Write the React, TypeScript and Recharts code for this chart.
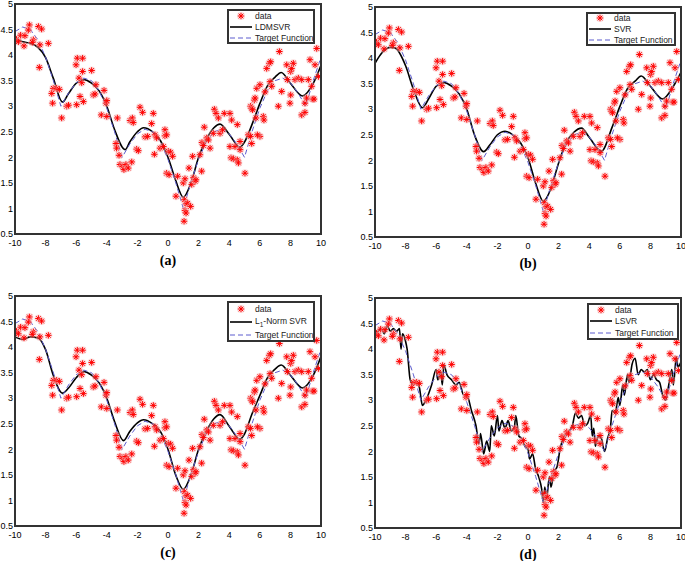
import React from "react";
import {
  ComposedChart,
  Scatter,
  Line,
  XAxis,
  YAxis,
} from "recharts";

const X_TICKS = [-10, -8, -6, -4, -2, 0, 2, 4, 6, 8, 10];
const Y_TICKS = [0.5, 1, 1.5, 2, 2.5, 3, 3.5, 4, 4.5, 5];

// noisy samples (same in all four panels)
const SAMPLE_X = [
  -9.9, -9.78, -9.63, -9.35, -9.41, -9.06, -9.13, -8.8, -8.87, -8.47, -8.26, -8.37, -7.82, -8.41,
  -7.5, -7.28, -7.1, -7.6, -7.54, -6.95, -6.62, -6.5, -6.01, -5.93, -5.97, -5.82, -5.58, -5.58,
  -5.64, -5.75, -5.53, -4.99, -4.88, -4.77, -4.71, -4.18, -4.05, -4.0, -4.36, -4.0, -3.31, -3.4,
  -3.36, -3.2, -3.14, -2.96, -2.88, -2.75, -2.6, -2.37, -2.48, -2.33, -2.27, -2.05, -1.94, -1.83,
  -1.66, -1.5, -1.33, -1.07, -0.96, -0.89, -0.85, -0.74, -0.52, -0.3, -0.2, -0.2, -0.09, 0.02,
  0.17, 0.3, -0.09, 0.07, 0.63, 0.52, 1.0, 1.11, 1.07, 1.18, 1.11, 1.18, 1.05, 1.37, 1.29, 1.48,
  1.55, 1.66, 1.77, 1.83, 1.61, 2.2, 2.09, 2.22, 2.31, 2.37, 2.53, 2.64, 2.75, 3.03, 3.14, 2.96,
  3.29, 3.4, 3.57, 3.68, 4.05, 4.16, 4.05, 4.12, 4.27, 4.38, 4.53, 4.53, 4.6, 4.71, 4.71, 5.03,
  5.4, 5.47, 5.53, 5.64, 5.69, 5.47, 5.25, 5.4, 5.75, 5.8, 6.01, 6.23, 6.27, 6.01, 5.84, 6.34,
  6.45, 6.62, 6.71, 6.67, 6.78, 7.28, 7.43, 7.21, 7.76, 7.8, 8.02, 8.08, 8.19, 8.02, 7.97, 8.3,
  8.52, 8.74, 8.74, 8.95, 8.95, 9.06, 9.17, 9.28, 9.39, 9.46, 9.54, 9.61, 9.72, 9.83,
];
const SAMPLE_Y = [
  4.31, 4.26, 4.39, 4.38, 4.18, 4.59, 4.49, 4.3, 4.25, 4.56, 4.51, 4.2, 4.23, 3.76,
  3.35, 3.35, 3.33, 3.25, 3.06, 2.77, 3.0, 3.02, 3.81, 3.94, 3.03, 3.55, 3.94, 3.68,
  3.46, 3.19, 3.09, 3.7, 3.22, 3.24, 3.42, 3.31, 3.06, 3.11, 2.83, 2.8, 2.77, 2.27,
  2.18, 2.04, 1.86, 1.82, 1.76, 1.86, 1.79, 1.91, 2.72, 2.77, 2.68, 2.16, 2.13, 2.98,
  2.88, 2.4, 2.41, 2.66, 2.86, 2.06, 2.44, 2.38, 2.18, 2.21, 2.42, 2.54, 2.44, 2.12,
  2.1, 2.02, 1.69, 1.66, 1.63, 1.24, 1.5, 1.58, 1.17, 1.09, 0.96, 0.91, 0.75, 1.79, 1.1, 1.04,
  1.47, 1.6, 1.53, 1.56, 2.02, 1.73, 2.05, 2.29, 2.23, 2.59, 2.38, 2.34, 2.18, 2.94, 2.86, 2.47,
  2.77, 2.47, 2.54, 2.86, 2.86, 2.73, 2.21, 1.99, 1.97, 2.21, 2.64, 1.95, 1.89, 2.31, 2.15, 1.69,
  3.0, 2.96, 2.93, 3.12, 3.16, 2.27, 2.44, 2.41, 2.77, 3.35, 3.42, 2.8, 2.73, 2.41, 2.44, 3.28,
  3.74, 3.84, 3.87, 3.48, 3.39, 4.07, 3.29, 3.0, 3.81, 3.52, 3.68, 3.74, 3.84, 3.22, 3.06, 3.52,
  3.55, 3.52, 2.83, 2.88, 3.06, 3.16, 3.52, 3.91, 3.39, 3.14, 3.14, 3.81, 4.13, 3.58,
];

const TARGET_X = [
  -10, -9.5, -9, -8.5, -8, -7.5, -7, -6.5, -6, -5.5, -5, -4.5, -4, -3.5, -3, -2.5, -2, -1.5, -1, -0.5,
  0, 0.5, 1, 1.5, 2, 2.5, 3, 3.5, 4, 4.5, 5, 5.5, 6, 6.5, 7, 7.5, 8, 8.5, 9, 9.5, 10,
];
const TARGET_Y = [
  4.46, 4.55, 4.5, 4.3, 3.96, 3.51, 3.0, 3.26, 3.46, 3.55, 3.5, 3.3, 2.96, 2.51, 2.0, 2.26, 2.46, 2.55, 2.5, 2.3,
  1.96, 1.51, 1.0, 1.51, 1.96, 2.3, 2.5, 2.55, 2.46, 2.26, 2.0, 2.51, 2.96, 3.3, 3.5, 3.55, 3.46, 3.26, 3.0, 3.51, 3.96,
];

const LDMSVR_X = [-10, -9.5, -9, -8.5, -8, -7.5, -6.9, -6.5, -6, -5.5, -5, -4.5, -4, -3.5, -2.8, -2.5, -2, -1.6, -1, -0.5, 0, 0.5, 1, 1.5, 2, 2.5, 3, 3.4, 4, 4.7, 5, 5.5, 6, 6.5, 7, 7.4, 8, 8.8, 9.5, 10];
const LDMSVR_Y = [4.33, 4.26, 4.23, 4.15, 3.95, 3.55, 3.08, 3.25, 3.45, 3.52, 3.45, 3.3, 3.0, 2.55, 2.15, 2.3, 2.5, 2.58, 2.5, 2.33, 2.0, 1.55, 1.22, 1.5, 2.0, 2.35, 2.58, 2.65, 2.45, 2.2, 2.3, 2.65, 3.05, 3.4, 3.57, 3.66, 3.45, 3.2, 3.45, 3.8];

const SVR_X = [-10, -9.5, -9, -8.7, -8, -7.5, -6.9, -6.5, -6, -5.5, -5, -4.5, -4, -3.5, -2.9, -2.5, -2, -1.5, -1, -0.5, 0, 0.5, 1, 1.5, 2, 2.5, 3, 3.5, 4, 4.8, 5.5, 6, 6.5, 7, 7.4, 8, 8.8, 9.5, 10];
const SVR_Y = [3.9, 4.12, 4.21, 4.2, 3.85, 3.4, 3.03, 3.2, 3.45, 3.52, 3.45, 3.3, 3.0, 2.5, 2.17, 2.3, 2.5, 2.57, 2.5, 2.35, 2.05, 1.55, 1.2, 1.45, 1.95, 2.35, 2.55, 2.63, 2.45, 2.18, 2.65, 3.05, 3.4, 3.55, 3.65, 3.45, 3.2, 3.45, 3.72];

const L1_X = [-10, -9.5, -9, -8.5, -8, -7.5, -6.9, -6.5, -6, -5.5, -5, -4.5, -4, -3.5, -2.9, -2.5, -2, -1.6, -1, -0.5, 0, 0.5, 1, 1.5, 2, 2.5, 3, 3.4, 4, 4.7, 5, 5.5, 6, 6.5, 7, 7.4, 8, 8.8, 9.5, 10];
const L1_Y = [4.2, 4.15, 4.2, 4.18, 3.95, 3.45, 3.1, 3.2, 3.4, 3.52, 3.45, 3.3, 3.0, 2.55, 2.17, 2.35, 2.52, 2.58, 2.5, 2.35, 2.0, 1.5, 1.22, 1.5, 2.0, 2.35, 2.6, 2.68, 2.45, 2.2, 2.3, 2.7, 3.05, 3.4, 3.57, 3.65, 3.45, 3.2, 3.45, 3.82];

const LSVR_X = [
  -10, -9.8, -9.6, -9.4, -9.2, -9.0, -8.8, -8.6, -8.4, -8.3, -8.2, -8.0, -7.9, -7.7, -7.5, -7.3, -7.1, -6.9,
  -6.6, -6.3, -6.0, -5.9, -5.7, -5.6, -5.5, -5.3, -5.0, -4.7, -4.5, -4.2, -4.0, -3.7, -3.4, -3.2, -3.1, -2.9,
  -2.7, -2.5, -2.4, -2.2, -2.0, -1.9, -1.7, -1.5, -1.3, -1.1, -0.9, -0.8, -0.6, -0.4, -0.2, 0.0, 0.1, 0.3,
  0.5, 0.7, 0.9, 1.0, 1.1, 1.2, 1.4, 1.5, 1.7, 1.9, 2.1, 2.3, 2.5, 2.7, 2.9, 3.1, 3.3, 3.5, 3.7, 3.9, 4.1,
  4.2, 4.3, 4.4, 4.6, 4.8, 5.0, 5.2, 5.4, 5.5, 5.7, 5.9, 6.0, 6.2, 6.3, 6.5, 6.6, 6.8, 7.0, 7.2, 7.4, 7.6,
  7.8, 8.0, 8.2, 8.4, 8.6, 8.8, 9.0, 9.2, 9.4, 9.5, 9.7, 9.8, 10,
];
const LSVR_Y = [
  4.3, 4.35, 4.4, 4.3, 4.45, 4.35, 4.4, 4.35, 4.4, 4.0, 4.3, 4.15, 4.0, 3.4, 3.3, 3.35, 3.25, 2.9,
  3.05, 3.3, 3.6, 3.4, 3.55, 3.3, 3.7, 3.5, 3.4, 3.3, 3.35, 3.1, 3.1, 2.8, 2.5, 2.15, 2.35, 1.95,
  2.2, 2.0, 2.5, 2.3, 2.7, 2.4, 2.6, 2.45, 2.6, 2.4, 2.45, 2.7, 2.3, 2.25, 2.1, 2.05, 1.85, 1.95,
  1.65, 1.5, 1.25, 1.0, 1.3, 1.05, 1.5, 1.3, 1.6, 1.7, 2.05, 2.25, 2.35, 2.4, 2.5, 2.75, 2.65, 2.7, 2.5, 2.55, 2.7,
  2.3, 2.45, 2.1, 2.3, 2.25, 2.0, 2.25, 2.5, 2.8, 2.75, 3.05, 2.9, 3.3, 3.1, 3.5, 3.35, 3.7, 3.82, 3.5, 3.6, 3.55,
  3.6, 3.4, 3.5, 3.4, 3.35, 3.1, 3.0, 3.3, 3.6, 3.3, 3.85, 3.65, 3.75,
];

const zip = (xs: number[], ys: number[]) => xs.map((x, i) => ({ x, y: ys[i] }));

const samples = zip(SAMPLE_X, SAMPLE_Y);
const target = zip(TARGET_X, TARGET_Y);

const FONT = "'Liberation Sans', Arial, sans-serif";
const RED = "#ff0000";
const TARGET_COLOR = "#5c5ccf";
const FRAME = "#333";

function Star(props: any) {
  const { cx, cy } = props;
  if (cx == null || cy == null) return <g />;
  const r = 3.2;
  const d = r * 0.72;
  return (
    <g>
      <circle cx={cx} cy={cy} r={4} fill="#f4b4b4" opacity={0.45} />
      <path
        d={`M${cx - r},${cy}H${cx + r}M${cx},${cy - r}V${cy + r}M${cx - d},${cy - d}L${cx + d},${cy + d}M${cx - d},${cy + d}L${cx + d},${cy - d}`}
        stroke={RED}
        strokeWidth={1}
      />
    </g>
  );
}

const PW = 306;
const PH = 230;
const YW = 22;
const MT = 6;
const MR = 6;

function LegendBox({ name, w, h, inset }: { name: React.ReactNode; w: number; h: number; inset: number }) {
  const rowH = (h - 2) / 3;
  return (
    <div
      style={{
        position: "absolute",
        right: MR + inset,
        top: MT + 5,
        width: w,
        height: h,
        background: "#fff",
        border: `2px solid ${FRAME}`,
        boxSizing: "border-box",
        fontFamily: FONT,
        fontSize: 8.5,
        color: "#222",
      }}
    >
      {[0, 1, 2].map((i) => (
        <div
          key={i}
          style={{ position: "absolute", left: 0, top: i * rowH - 1, height: rowH, width: w - 4, display: "flex", alignItems: "center" }}
        >
          <svg width={26} height={12} style={{ flex: "none" }}>
            {i === 0 && <Star cx={12} cy={6} />}
            {i === 1 && <line x1={1} x2={23} y1={6} y2={6} stroke="#000" strokeWidth={1.6} />}
            {i === 2 && (
              <line x1={1} x2={23} y1={6} y2={6} stroke={TARGET_COLOR} strokeWidth={1} strokeDasharray="5 3" />
            )}
          </svg>
          <span style={{ marginLeft: 0, whiteSpace: "nowrap" }}>
            {i === 0 ? "data" : i === 1 ? name : "Target Function"}
          </span>
        </div>
      ))}
    </div>
  );
}

interface PanelProps {
  left: number;
  top: number;
  model: { x: number; y: number }[];
  name: React.ReactNode;
  caption: string;
  legendW: number;
  legendH: number;
  legendInset: number;
}

function Panel({ left, top, model, name, caption, legendW, legendH, legendInset }: PanelProps) {
  const axisTick = { fontSize: 9, fill: "#000", fontFamily: FONT };
  const W = YW + PW + MR;
  const tickStroke = { stroke: FRAME, strokeWidth: 1.5 };
  return (
    <div style={{ position: "absolute", left: left - YW, top: top - MT, width: W, height: MT + PH + 36 }}>
      <ComposedChart width={W} height={MT + PH + 18} margin={{ top: MT, right: MR, bottom: 0, left: 0 }}>
        <XAxis
          dataKey="x"
          type="number"
          domain={[-10, 10]}
          ticks={X_TICKS}
          allowDataOverflow
          axisLine={false}
          tickLine={false}
          tickSize={0}
          tickMargin={6}
          height={18}
          tick={axisTick}
          interval={0}
        />
        <YAxis
          type="number"
          domain={[0.5, 5]}
          ticks={Y_TICKS}
          allowDataOverflow
          axisLine={false}
          tickLine={false}
          tickSize={0}
          tickMargin={2}
          width={YW}
          tick={axisTick}
          interval={0}
        />
        <XAxis xAxisId="bm" type="number" orientation="bottom" mirror domain={[-10, 10]} ticks={X_TICKS} tick={false} axisLine={false} tickLine={tickStroke} tickSize={3} interval={0} />
        <XAxis xAxisId="tm" type="number" orientation="top" mirror domain={[-10, 10]} ticks={X_TICKS} tick={false} axisLine={false} tickLine={tickStroke} tickSize={3} interval={0} />
        <YAxis yAxisId="lm" type="number" orientation="left" mirror domain={[0.5, 5]} ticks={Y_TICKS} tick={false} axisLine={false} tickLine={tickStroke} tickSize={3} interval={0} />
        <YAxis yAxisId="rm" type="number" orientation="right" mirror domain={[0.5, 5]} ticks={Y_TICKS} tick={false} axisLine={false} tickLine={tickStroke} tickSize={3} interval={0} />
        <Scatter data={samples} dataKey="y" shape={<Star />} isAnimationActive={false} />
        <Line data={model} dataKey="y" type="monotone" stroke="#000" strokeWidth={1.6} dot={false} isAnimationActive={false} />
        <Line
          data={target}
          dataKey="y"
          type="linear"
          stroke={TARGET_COLOR}
          strokeWidth={1}
          strokeDasharray="5 3"
          dot={false}
          isAnimationActive={false}
        />
      </ComposedChart>
      {/* axes box */}
      <div
        style={{
          position: "absolute",
          left: YW - 1,
          top: MT - 1,
          width: PW + 2,
          height: PH + 2,
          border: `2px solid ${FRAME}`,
          boxSizing: "border-box",
          pointerEvents: "none",
        }}
      />
      <LegendBox name={name} w={legendW} h={legendH} inset={legendInset} />
      <div
        style={{
          position: "absolute",
          left: YW,
          width: PW,
          top: MT + PH + 21,
          lineHeight: "12px",
          textAlign: "center",
          fontFamily: "'Liberation Serif', 'Times New Roman', serif",
          fontWeight: "bold",
          fontSize: 14,
        }}
      >
        {caption}
      </div>
    </div>
  );
}

export default function App() {
  return (
    <div style={{ position: "absolute", left: 0, top: 0, width: 685, height: 561, background: "#fff", overflow: "hidden" }}>
      <Panel left={15} top={4} model={zip(LDMSVR_X, LDMSVR_Y)} name="LDMSVR" caption="(a)" legendW={88} legendH={35} legendInset={6} />
      <Panel left={375} top={7} model={zip(SVR_X, SVR_Y)} name="SVR" caption="(b)" legendW={90} legendH={34} legendInset={5} />
      <Panel
        left={15}
        top={296}
        model={zip(L1_X, L1_Y)}
        name={
          <span>
            L<sub style={{ fontSize: 6.5 }}>1</sub>-Norm SVR
          </span>
        }
        caption="(c)"
        legendW={88}
        legendH={41}
        legendInset={6}
      />
      <Panel left={375} top={298} model={zip(LSVR_X, LSVR_Y)} name="LSVR" caption="(d)" legendW={92} legendH={37} legendInset={2} />
    </div>
  );
}
